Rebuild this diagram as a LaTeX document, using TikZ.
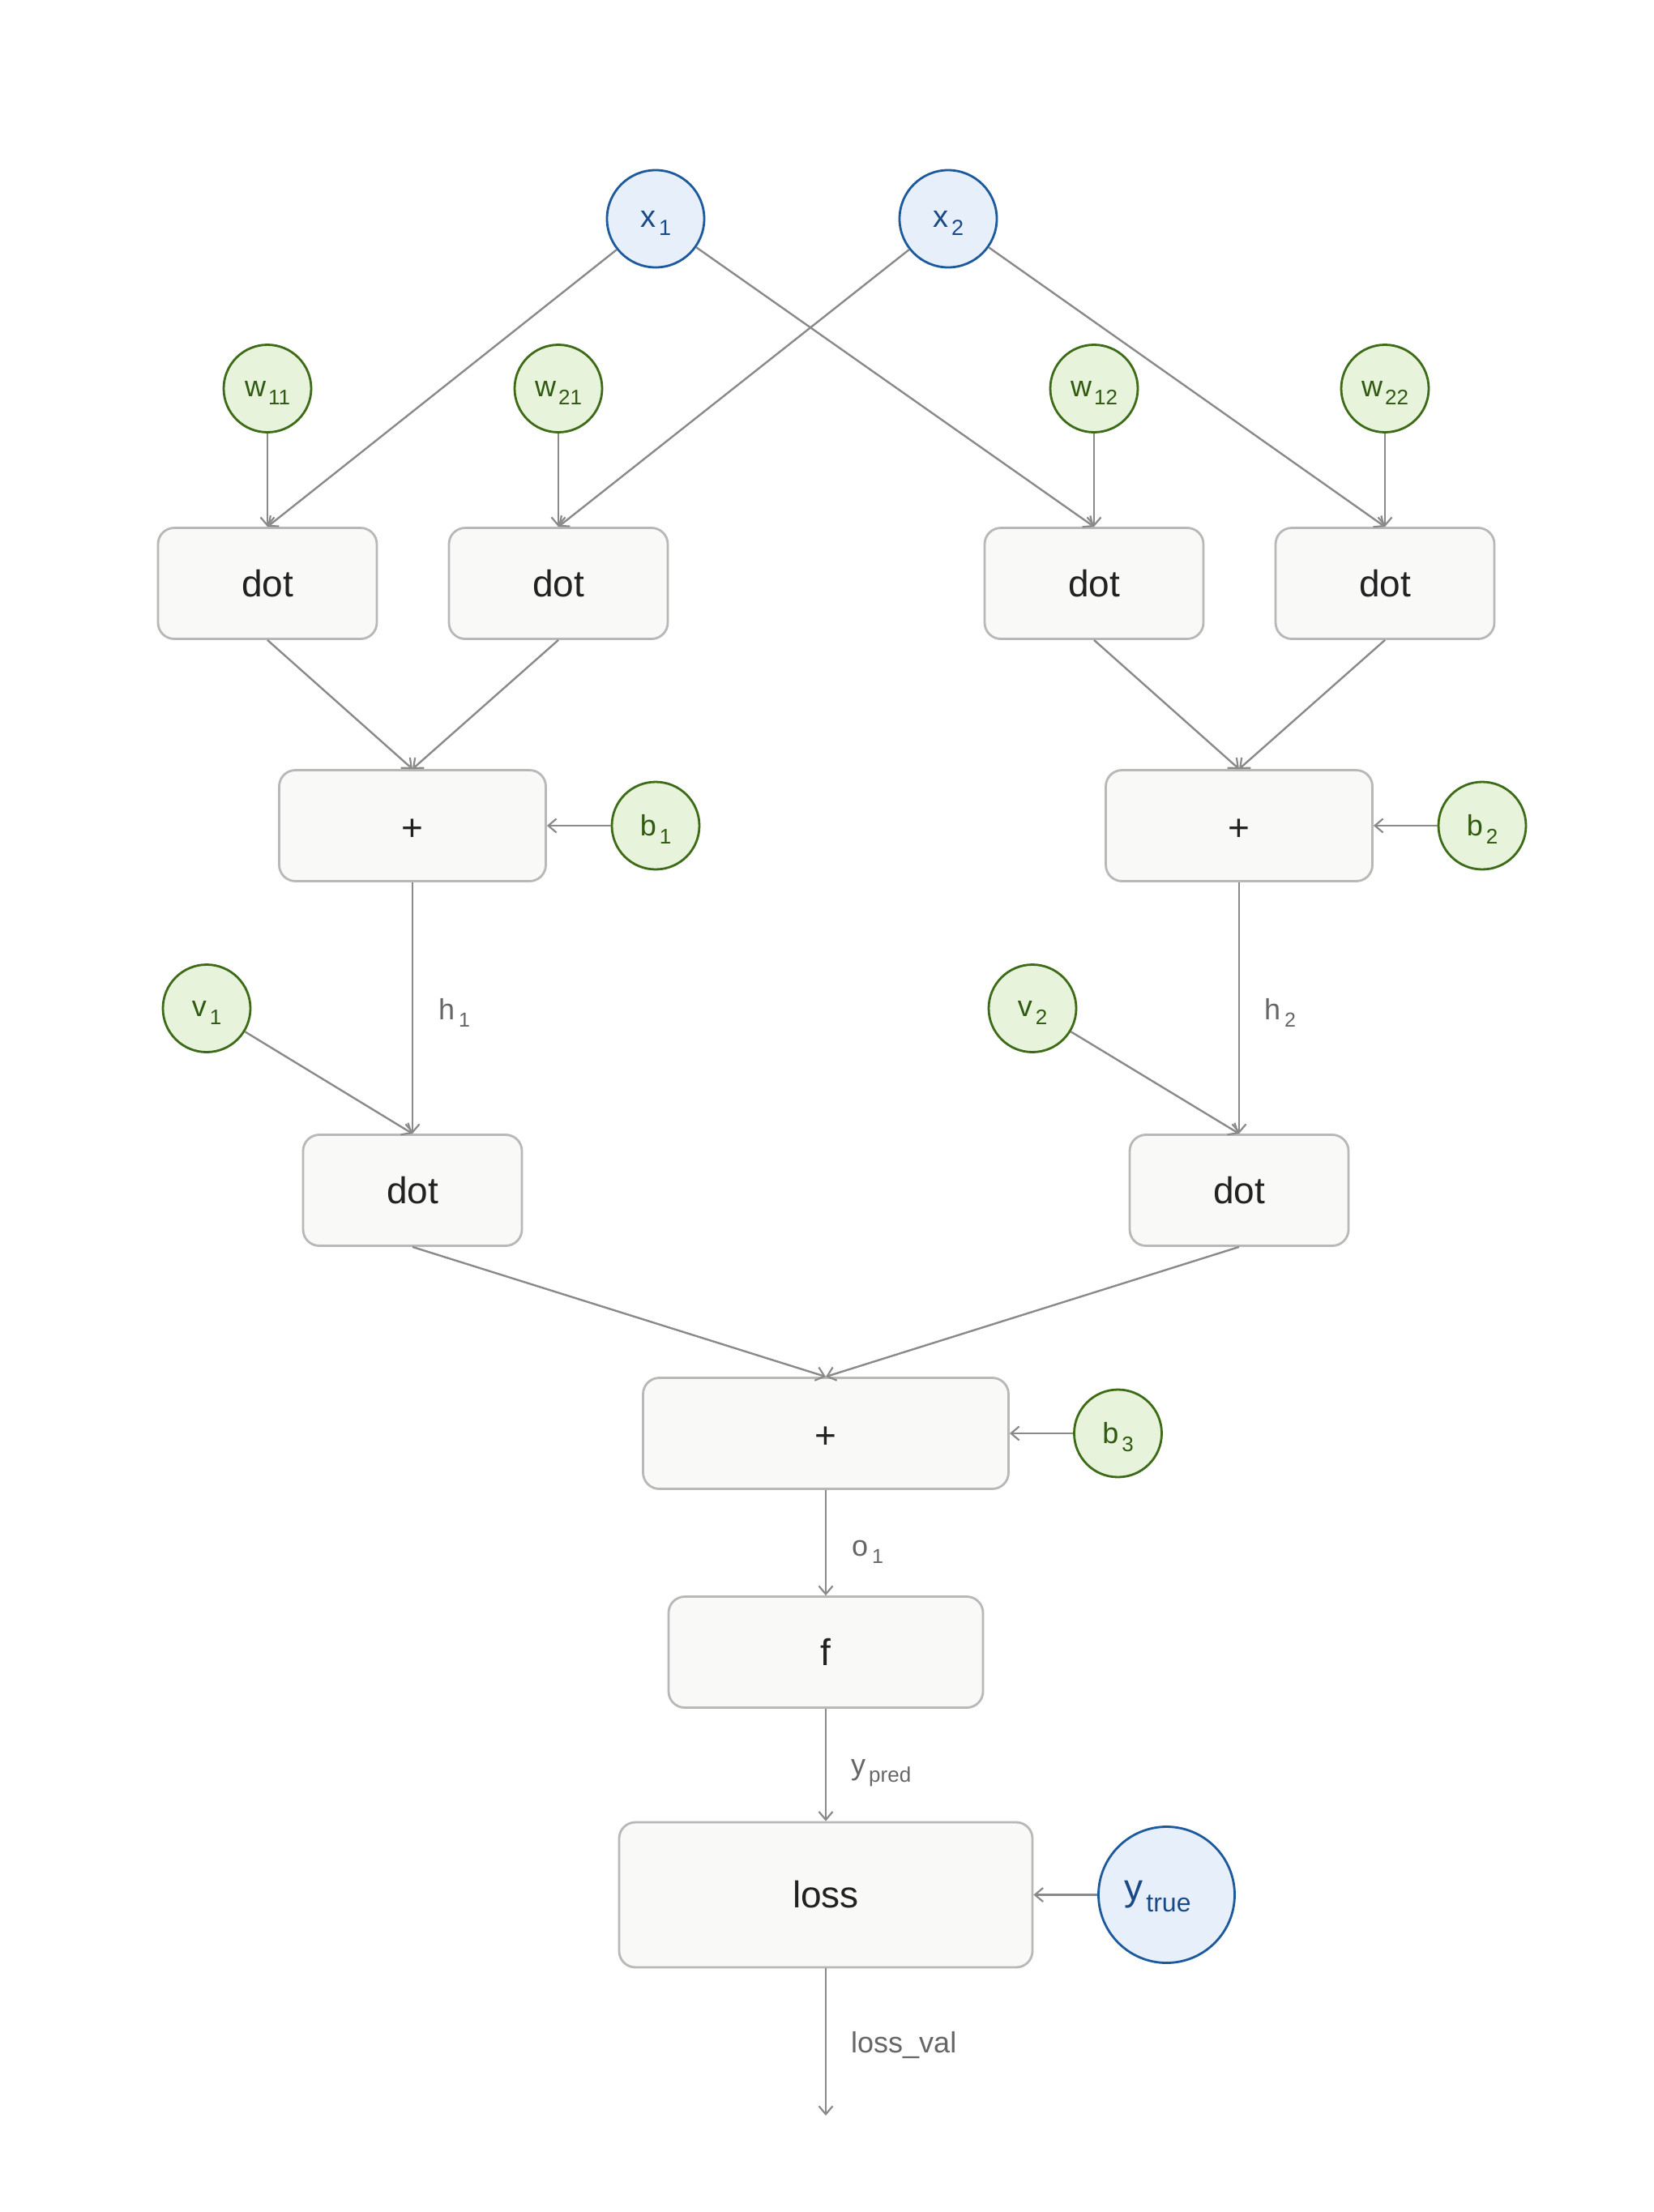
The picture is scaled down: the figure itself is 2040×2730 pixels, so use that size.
\documentclass[tikz,border=0pt]{standalone}
\usepackage{fontspec}
\setmainfont{Liberation Sans}
\usetikzlibrary{arrows.meta}
\definecolor{edgec}{HTML}{8A8A8A}
\definecolor{boxd}{HTML}{B8B8B8}
\definecolor{boxf}{HTML}{F9F9F7}
\definecolor{boxt}{HTML}{222222}
\definecolor{bluef}{HTML}{E6EFFA}
\definecolor{blued}{HTML}{1C5A9C}
\definecolor{bluet}{HTML}{1A4A85}
\definecolor{greenf}{HTML}{E8F3DC}
\definecolor{greend}{HTML}{3D6B17}
\definecolor{greent}{HTML}{2F5A10}
\definecolor{labt}{HTML}{666666}
\newcommand{\mysub}[6]{{\fontsize{#3}{#3}\selectfont #1}\hspace{#5}\raisebox{-#6}[0pt][0pt]{\fontsize{#4}{#4}\selectfont #2}}
\newcommand{\myplus}{\raisebox{-5pt}[\height][0pt]{+}}
\tikzset{
  opbox/.style={draw=boxd, fill=boxf, line width=2.8pt, rounded corners=20pt,
    minimum width=270pt, minimum height=137pt, inner sep=0pt, text=boxt,
    font=\fontsize{46}{46}\selectfont},
  invar/.style={circle, draw=blued, fill=bluef, line width=2.8pt, text=bluet,
    minimum size=120pt, inner sep=0pt},
  parvar/.style={circle, draw=greend, fill=greenf, line width=2.8pt, text=greent,
    minimum size=108pt, inner sep=0pt},
  flow/.style={draw=edgec, line width=2.4pt, -{Straight Barb[length=10pt,width=17pt,line width=2.2pt]}},
  elab/.style={anchor=base west, inner sep=0pt, text=labt}
}
\begin{document}
\begin{tikzpicture}[x=1pt,y=-1pt]
\useasboundingbox (0,0) rectangle (2040,2730);
% inputs
\node[invar] (x1) at (809,270) {\mysub{x}{1}{38}{27}{4pt}{10pt}};
\node[invar] (x2) at (1170,270) {\mysub{x}{2}{38}{27}{4pt}{10pt}};
% weights
\node[parvar] (w11) at (330,479.5) {\mysub{w}{11}{36}{26}{3pt}{10pt}};
\node[parvar] (w21) at (689,479.5) {\mysub{w}{21}{36}{26}{3pt}{10pt}};
\node[parvar] (w12) at (1350,479.5) {\mysub{w}{12}{36}{26}{3pt}{10pt}};
\node[parvar] (w22) at (1709,479.5) {\mysub{w}{22}{36}{26}{3pt}{10pt}};
% dot row 1
\node[opbox] (d1) at (330,720) {dot};
\node[opbox] (d2) at (689,720) {dot};
\node[opbox] (d3) at (1350,720) {dot};
\node[opbox] (d4) at (1709,720) {dot};
% plus row
\node[opbox, minimum width=329pt] (p1) at (509,1019) {\myplus};
\node[opbox, minimum width=329pt] (p2) at (1529,1019) {\myplus};
\node[parvar] (b1) at (809,1019) {\mysub{b}{1}{36}{26}{4pt}{10pt}};
\node[parvar] (b2) at (1829,1019) {\mysub{b}{2}{36}{26}{4pt}{10pt}};
% v
\node[parvar] (v1) at (255,1244.5) {\mysub{v}{1}{36}{26}{4pt}{10pt}};
\node[parvar] (v2) at (1274,1244.5) {\mysub{v}{2}{36}{26}{4pt}{10pt}};
% dot row 2
\node[opbox] (d5) at (509,1469) {dot};
\node[opbox] (d6) at (1529,1469) {dot};
% output
\node[opbox, minimum width=451pt] (p3) at (1019,1769) {\myplus};
\node[parvar] (b3) at (1379.5,1769) {\mysub{b}{3}{36}{26}{4pt}{10pt}};
\node[opbox, minimum width=388pt] (f) at (1019,2039) {f};
\node[opbox, minimum width=510pt, minimum height=179pt] (loss) at (1019,2338.5) {loss};
\node[invar, minimum size=168pt] (yt) at (1439.5,2338.5) {\mysub{y}{true}{46}{32}{4pt}{14pt}\hspace*{22pt}};
\coordinate (out) at (1019,2611);
% edges
\draw[flow] (w11) -- (d1.north);
\draw[flow] (x1) -- (d1.north);
\draw[flow] (w21) -- (d2.north);
\draw[flow] (x2) -- (d2.north);
\draw[flow] (x1) -- (d3.north);
\draw[flow] (w12) -- (d3.north);
\draw[flow] (x2) -- (d4.north);
\draw[flow] (w22) -- (d4.north);
\draw[flow] (d1.south) -- (p1.north);
\draw[flow] (d2.south) -- (p1.north);
\draw[flow] (d3.south) -- (p2.north);
\draw[flow] (d4.south) -- (p2.north);
\draw[flow] (b1) -- (p1.east);
\draw[flow] (b2) -- (p2.east);
\draw[flow] (p1.south) -- (d5.north);
\draw[flow] (v1) -- (d5.north);
\draw[flow] (p2.south) -- (d6.north);
\draw[flow] (v2) -- (d6.north);
\draw[flow] (d5.south) -- (p3.north);
\draw[flow] (d6.south) -- (p3.north);
\draw[flow] (b3) -- (p3.east);
\draw[flow] (p3.south) -- (f.north);
\draw[flow] (f.south) -- (loss.north);
\draw[flow] (yt) -- (loss.east);
\draw[flow] (loss.south) -- (out);
% edge labels
\node[elab] (lh1) at (541,1258) {\mysub{h}{1}{36}{25}{5pt}{9pt}};
\node[elab] (lh2) at (1560,1258) {\mysub{h}{2}{36}{25}{5pt}{9pt}};
\node[elab] (lo1) at (1051,1920) {\mysub{o}{1}{36}{25}{5pt}{9pt}};
\node[elab] (lyp) at (1050,2190) {\mysub{y}{pred}{36}{26}{4pt}{9pt}};
\node[elab] (llv) at (1050,2533) {\fontsize{36}{36}\selectfont loss\_val};
\end{tikzpicture}
\end{document}
